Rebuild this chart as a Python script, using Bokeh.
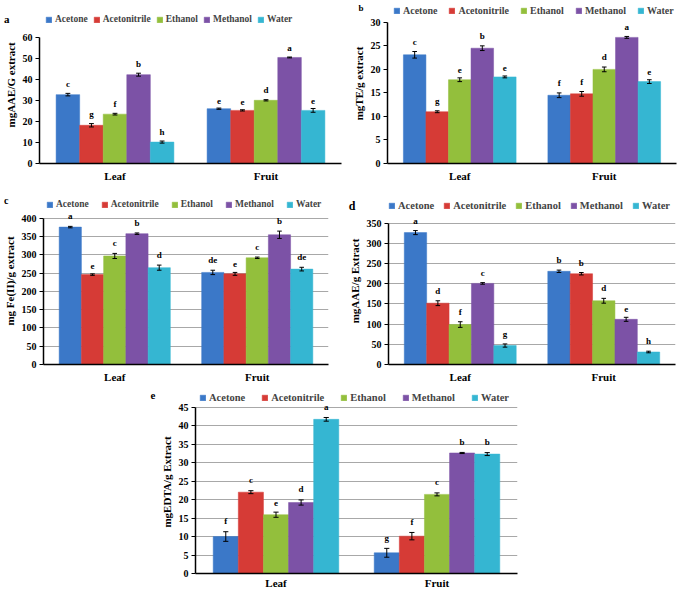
from bokeh.plotting import figure
from bokeh.models import (ColumnDataSource, Legend, LegendItem, FixedTicker, Spacer,
                          LinearAxis)
from bokeh.layouts import column, row
from bokeh.transform import dodge
from bokeh.core.properties import value
from bokeh.embed import file_html
from bokeh.resources import INLINE

categories = ["Leaf", "Fruit"]
solvents = ["Acetone", "Acetonitrile", "Ethanol", "Methanol", "Water"]
colors = ["#3b78c8", "#d63b36", "#93bf3c", "#7c52a6", "#35b6d2"]

# panel a
a_vals = {"Acetone": [32.8, 26.1], "Acetonitrile": [18.2, 25.3], "Ethanol": [23.5, 30.1],
          "Methanol": [42.3, 50.5], "Water": [10.2, 25.3]}
a_err = {"Acetone": [0.6, 0.3], "Acetonitrile": [0.8, 0.3], "Ethanol": [0.4, 0.3],
         "Methanol": [0.7, 0.2], "Water": [0.5, 0.9]}
a_let = {"Acetone": ["c", "e"], "Acetonitrile": ["g", "e"], "Ethanol": ["f", "d"],
         "Methanol": ["b", "a"], "Water": ["h", "e"]}
# panel b
b_vals = {"Acetone": [23.1, 14.5], "Acetonitrile": [11.0, 14.8], "Ethanol": [17.8, 20.0],
          "Methanol": [24.5, 26.8], "Water": [18.4, 17.4]}
b_err = {"Acetone": [0.7, 0.5], "Acetonitrile": [0.2, 0.5], "Ethanol": [0.4, 0.5],
         "Methanol": [0.5, 0.2], "Water": [0.2, 0.4]}
b_let = {"Acetone": ["c", "f"], "Acetonitrile": ["g", "f"], "Ethanol": ["e", "d"],
         "Methanol": ["b", "a"], "Water": ["e", "e"]}
# panel c
c_vals = {"Acetone": [376, 252], "Acetonitrile": [246, 248], "Ethanol": [297, 292],
          "Methanol": [358, 355], "Water": [265, 261]}
c_err = {"Acetone": [2, 6], "Acetonitrile": [2, 4], "Ethanol": [7, 2],
         "Methanol": [2, 10], "Water": [7, 5]}
c_let = {"Acetone": ["a", "de"], "Acetonitrile": ["e", "e"], "Ethanol": ["c", "c"],
         "Methanol": ["b", "b"], "Water": ["d", "de"]}
# panel d
d_vals = {"Acetone": [327, 231], "Acetonitrile": [152, 225], "Ethanol": [99, 158],
          "Methanol": [201, 112], "Water": [47, 31]}
d_err = {"Acetone": [5, 3], "Acetonitrile": [6, 3], "Ethanol": [7, 6],
         "Methanol": [2, 5], "Water": [4, 2]}
d_let = {"Acetone": ["a", "b"], "Acetonitrile": ["d", "b"], "Ethanol": ["f", "d"],
         "Methanol": ["c", "e"], "Water": ["g", "h"]}
# panel e
e_vals = {"Acetone": [10.0, 5.6], "Acetonitrile": [22.0, 10.1], "Ethanol": [15.9, 21.4],
          "Methanol": [19.2, 32.6], "Water": [41.7, 32.3]}
e_err = {"Acetone": [1.3, 1.2], "Acetonitrile": [0.4, 1.0], "Ethanol": [0.7, 0.4],
         "Methanol": [0.7, 0.15], "Water": [0.5, 0.4]}
e_let = {"Acetone": ["f", "g"], "Acetonitrile": ["c", "f"], "Ethanol": ["e", "c"],
         "Methanol": ["d", "b"], "Water": ["a", "b"]}

FONT = "Liberation Serif"


def panel(tag, tag_y, tag_standoff, tag_size, vals, errs, lets, ymax, ystep, ytop, ylabel,
          fw, fh, borders, grid, leg_size, leg_x, leg_drop, leg_sp, x_standoff):
    bl, br, bt, bb = borders
    p = figure(x_range=categories, y_range=(0, ytop), frame_width=fw, frame_height=fh,
               output_backend="svg", toolbar_location=None,
               min_border_left=bl, min_border_right=br, min_border_top=bt, min_border_bottom=bb)
    p.outline_line_color = None
    p.xgrid.grid_line_color = None
    if grid:
        p.ygrid.grid_line_color = "#a8a8a8"
        p.ygrid.grid_line_width = 1
        p.ygrid.bounds = (0, ymax)
    else:
        p.ygrid.grid_line_color = None
    p.x_range.range_padding = 0
    p.yaxis.ticker = FixedTicker(ticks=list(range(0, ymax + 1, ystep)))
    p.yaxis.bounds = (0, ymax)
    p.yaxis.minor_tick_line_color = None
    p.yaxis.major_tick_in = 0
    p.yaxis.major_tick_out = 4
    p.yaxis.major_tick_line_color = "black"
    p.xaxis.major_tick_line_color = None
    p.xaxis.major_tick_out = 0
    p.xaxis.major_tick_in = 0
    for ax in (p.xaxis[0], p.yaxis[0]):
        ax.axis_line_color = "black"
        ax.axis_line_width = 1.5
        ax.major_label_text_font = FONT
        ax.major_label_text_font_style = "bold"
        ax.major_label_text_color = "black"
        ax.axis_label_text_font = FONT
        ax.axis_label_text_font_style = "bold"
        ax.axis_label_text_color = "black"
    p.yaxis.major_label_text_font_size = "10px"
    p.xaxis.major_label_text_font_size = "11px"
    p.yaxis.axis_label = ylabel
    p.yaxis.axis_label_text_font_size = "11px"
    p.yaxis.axis_label_standoff = 3
    p.yaxis.major_label_standoff = 3
    p.xaxis.major_label_standoff = x_standoff

    w = 0.156
    offs = [-2 * w, -w, 0, w, 2 * w]
    items = []
    for s, c, off in zip(solvents, colors, offs):
        v = vals[s]
        e = errs[s]
        up = [vi + ei for vi, ei in zip(v, e)]
        lo = [vi - ei for vi, ei in zip(v, e)]
        ly = [u + ymax * 0.035 for u in up]
        src = ColumnDataSource(dict(cat=categories, val=v, up=up, lo=lo, ly=ly, let=lets[s]))
        r = p.vbar(x=dodge("cat", off, range=p.x_range), top="val", width=w, source=src,
                   fill_color=c, line_color=c, line_width=0.5)
        items.append(LegendItem(label=s, renderers=[r]))
        p.segment(x0=dodge("cat", off, range=p.x_range), y0="lo",
                  x1=dodge("cat", off, range=p.x_range), y1="up", source=src,
                  line_color="black", line_width=1)
        for yf in ("lo", "up"):
            p.segment(x0=dodge("cat", off - 0.016, range=p.x_range), y0=yf,
                      x1=dodge("cat", off + 0.016, range=p.x_range), y1=yf, source=src,
                      line_color="black", line_width=1)
        p.text(x=dodge("cat", off, range=p.x_range), y="ly", text="let", source=src,
               text_font=value(FONT), text_font_style="bold", text_font_size="9px",
               text_align="center", text_baseline="bottom", text_color="black")
    leg = Legend(items=items, orientation="horizontal", location=(leg_x, fh - 13 - leg_drop),
                 label_text_font=FONT, label_text_font_style="bold",
                 label_text_font_size=leg_size, glyph_width=7, glyph_height=7,
                 spacing=leg_sp, padding=0, margin=0, label_standoff=3,
                 label_height=12, border_line_color=None, background_fill_alpha=0)
    p.add_layout(leg, "center")
    # panel letter, drawn as the single tick label of an outer, line-less axis
    tag_axis = LinearAxis(ticker=FixedTicker(ticks=[tag_y]), major_label_overrides={tag_y: tag},
                          axis_line_color=None, major_tick_line_color=None,
                          minor_tick_line_color=None, major_tick_out=0, major_tick_in=0,
                          major_label_standoff=tag_standoff,
                          major_label_text_font=FONT, major_label_text_font_style="bold",
                          major_label_text_font_size=tag_size, major_label_text_color="black")
    p.add_layout(tag_axis, "left")
    return p


pa = panel("a", 69, -8, "11px", a_vals, a_err, a_let, 60, 10, 76.2, "mgAAE/G  extract",
           302, 160, (33, 2, 3, 27), False, "9.5px", 6, 9, 5, 6)
pb = panel("b", 33, -14, "9px", b_vals, b_err, b_let, 30, 5, 34, "mgTE/g extract",
           289, 160, (44, 3, 3, 27), False, "10px", 6, 0, 11, 6)
pc = panel("c", 448, -8, "10px", c_vals, c_err, c_let, 400, 50, 457, "mg Fe(II)/g extract",
           285, 167, (38, 14, 7, 26), True, "9.5px", 3, 0, 12, 6)
pd_ = panel("d", 394, -10, "12px", d_vals, d_err, d_let, 350, 50, 414, "mgAAE/g Extract",
            287, 167, (46, 3, 7, 26), True, "10.5px", 0, 1, 9, 6)
pe = panel("e", 49, 2, "11px", e_vals, e_err, e_let, 45, 5, 49.5, "mgEDTA/g Extract",
           322, 183, (55, 3, 0, 18), True, "10.5px", 4, 0, 16, 3)

layout = column(row(pa, pb), row(pc, pd_), row(Spacer(width=140, height=201), pe))
open("out.html", "w").write(file_html(layout, INLINE))
